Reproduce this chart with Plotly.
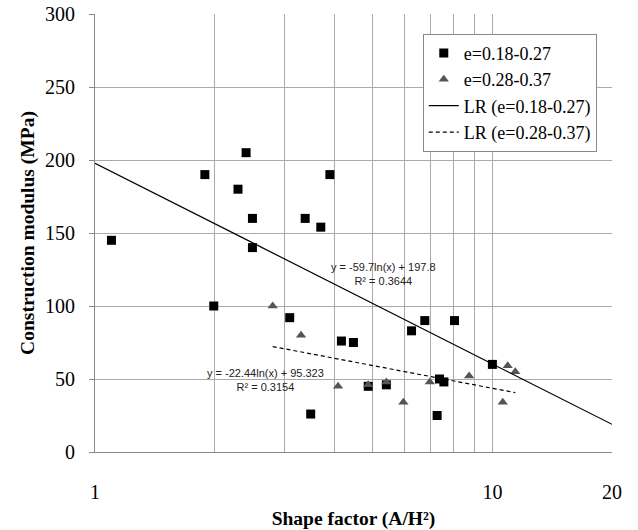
import numpy as np
import plotly.graph_objects as go

# e=0.18-0.27 (squares)
sq_x = [1.10, 1.89, 2.40, 2.29, 2.49, 2.49, 1.99, 3.38, 3.70, 3.90, 3.09, 4.17, 4.47,
        6.26, 6.76, 8.03, 10.0, 7.36, 7.55, 4.87, 5.41, 3.49, 7.26]
sq_y = [145, 190, 205, 180, 160, 140, 100, 160, 154, 190, 92, 76, 75,
        83, 90, 90, 60, 50, 48, 45, 46, 26, 25]
# e=0.28-0.37 (triangles)
tr_x = [2.80, 3.30, 4.09, 4.87, 5.41, 5.97, 6.96, 8.74, 10.93, 11.42, 10.62]
tr_y = [100, 80, 45, 46, 48, 34, 48, 52, 59, 55, 34]

# regression coefficients y = a*ln(x) + b
lr1_a, lr1_b = -59.7, 197.8
lr2_a, lr2_b = -22.44, 95.323
lr1_x = [1.0, 20.0]
lr2_x = [min(tr_x), max(tr_x)]

x_ticks = [1, 2, 3, 4, 5, 6, 7, 8, 9, 10, 20]
x_ticktext = ["1", "", "", "", "", "", "", "", "", "10", "20"]
y_ticks = [0, 50, 100, 150, 200, 250, 300]

serif = "Liberation Serif"

fig = go.Figure()
fig.add_trace(go.Scatter(x=sq_x, y=sq_y, mode="markers", name="e=0.18-0.27",
                         marker=dict(symbol="square", size=9, color="black")))
fig.add_trace(go.Scatter(x=tr_x, y=tr_y, mode="markers", name="e=0.28-0.37",
                         marker=dict(symbol="triangle-up", size=9, color="#555555")))
fig.add_trace(go.Scatter(x=lr1_x, y=[lr1_a*np.log(v)+lr1_b for v in lr1_x], mode="lines",
                         name="LR (e=0.18-0.27)", line=dict(color="black", width=1.2)))
fig.add_trace(go.Scatter(x=lr2_x, y=[lr2_a*np.log(v)+lr2_b for v in lr2_x], mode="lines",
                         name="LR (e=0.28-0.37)", line=dict(color="black", width=1.2, dash="4px,3px")))

eq_font = dict(family="Liberation Sans", size=11, color="#222222")
fig.add_annotation(x=np.log10(5.33), y=122, xref="x", yref="y",
                   text="y = -59.7ln(x) + 197.8<br>R² = 0.3644", showarrow=False,
                   font=eq_font, align="center")
fig.add_annotation(x=np.log10(2.69), y=49, xref="x", yref="y",
                   text="y = -22.44ln(x) + 95.323<br>R² = 0.3154", showarrow=False,
                   font=eq_font, align="center")

fig.update_layout(
    width=638, height=530,
    margin=dict(l=95, r=26, t=14, b=78),
    paper_bgcolor="white", plot_bgcolor="white",
    font=dict(family=serif, size=17, color="black"),
    showlegend=True,
    legend=dict(x=0.634, y=0.955, xanchor="left", yanchor="top",
                bgcolor="white", bordercolor="#888888", borderwidth=1,
                font=dict(family=serif, size=18), tracegroupgap=0, itemwidth=30),
    xaxis=dict(type="log", range=[0, np.log10(20)], tickvals=x_ticks, ticktext=x_ticktext,
               showgrid=True, gridcolor="#aaaaaa", gridwidth=1,
               showline=True, linecolor="#888888", mirror=False, automargin=False,
               ticks="", ticklabelstandoff=22, tickfont=dict(family=serif, size=20),
               title=dict(text="<b>Shape factor (A/H²)</b>", font=dict(family=serif, size=19.5),
                          standoff=14),
               zeroline=False),
    yaxis=dict(range=[0, 300], tickvals=y_ticks, showgrid=True, gridcolor="#aaaaaa", gridwidth=1,
               showline=True, linecolor="#888888", ticks="outside", ticklen=5, tickcolor="#888888",
               tickfont=dict(family=serif, size=20), ticklabelstandoff=10, automargin=False,
               title=dict(text="<b>Construction modulus (MPa)</b>", font=dict(family=serif, size=19.5),
                          standoff=5),
               zeroline=False),
)

fig.write_html("out.html")
